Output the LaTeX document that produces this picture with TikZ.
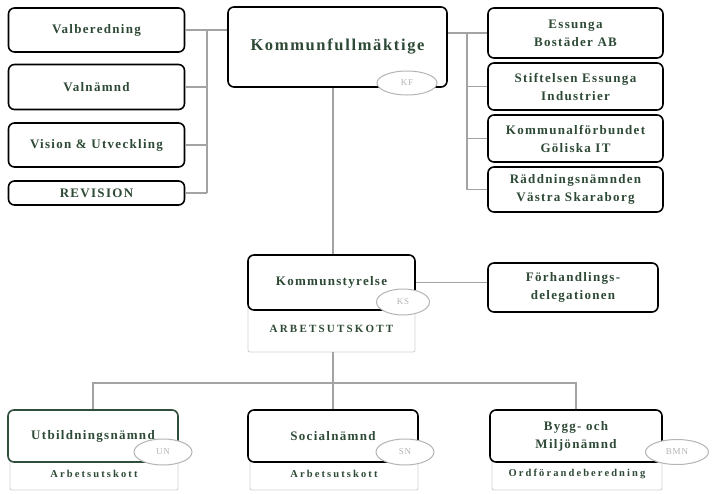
\documentclass[tikz,border=0pt]{standalone}
\usepackage{fontspec}
\setmainfont{Liberation Serif}
\newfontfamily\orgfont[LetterSpace=10]{Liberation Serif}
\newfontfamily\subfont[LetterSpace=20]{Liberation Serif}
\definecolor{orgtext}{HTML}{2E4A36}
\definecolor{orgline}{HTML}{A3A3A3}
\definecolor{subline}{HTML}{D2D2D2}
\definecolor{tagline}{HTML}{B4B4B4}
\definecolor{utbline}{HTML}{2F4F3A}
\tikzset{
  orgbox/.style={draw=black, line width=1.6pt, rounded corners=6pt, fill=white,
    align=center, inner sep=1pt, text=orgtext, font=\orgfont\bfseries\fontsize{13}{18}\selectfont},
  subbox/.style={draw=subline, line width=0.9pt, rounded corners=2pt, fill=white,
    align=center, inner sep=1pt, text=orgtext, font=\subfont\bfseries\fontsize{10.5}{12}\selectfont},
  tag/.style={draw=tagline, ellipse, line width=1pt, fill=white, inner sep=0pt,
    text=tagline, font=\orgfont\fontsize{9}{10}\selectfont},
  link/.style={draw=orgline, line width=1.2pt},
}
\usetikzlibrary{shapes.geometric}
\begin{document}
\begin{tikzpicture}[x=1pt,y=1pt,yscale=-1,xscale=1]
\useasboundingbox (0,0) rectangle (718,493);
%Left column
\node [orgbox, minimum width=176, minimum height=44] (valb) at (96.5,30) {Valberedning};
\node [orgbox, minimum width=176, minimum height=45] (valn) at (96.5,87) {Valnämnd};
\node [orgbox, minimum width=176, minimum height=44] (visi) at (96.5,145) {Vision \& Utveckling};
\node [orgbox, minimum width=176, minimum height=24] (revi) at (96.5,193) {REVISION};
%Top
\node [orgbox, minimum width=219, minimum height=80, font=\orgfont\bfseries\fontsize{16.5}{18}\selectfont] (kf) at (337.5,47) {Kommunfullmäktige};
\node [tag, minimum width=60, minimum height=24] (kftag) at (407,83) {KF};
%Right column
\node [orgbox, minimum width=175, minimum height=50] (essu) at (575.5,33) {Essunga\\Bostäder AB};
\node [orgbox, minimum width=175, minimum height=47] (stif) at (575.5,86.5) {Stiftelsen Essunga\\Industrier};
\node [orgbox, minimum width=175, minimum height=47] (komf) at (575.5,138.5) {Kommunalförbundet\\Göliska IT};
\node [orgbox, minimum width=175, minimum height=45] (radd) at (575.5,189.5) {Räddningsnämnden\\Västra Skaraborg};
%Middle
\node [subbox, minimum width=167, minimum height=46, font=\subfont\bfseries\fontsize{11}{12}\selectfont] (ksarb) at (331.5,329) {\raisebox{-6pt}{ARBETSUTSKOTT}};
\node [orgbox, minimum width=167, minimum height=55] (ks) at (331.5,282.5) {Kommunstyrelse};
\node [tag, minimum width=53, minimum height=26] (kstag) at (403,302) {KS};
\node [orgbox, minimum width=170, minimum height=49] (forh) at (573,287.5) {Förhandlings-\\delegationen};
%Bottom row
\node [subbox, minimum width=168, minimum height=32] (utbarb) at (94,474) {\raisebox{-6pt}{Arbetsutskott}};
\node [orgbox, draw=utbline, minimum width=170, minimum height=52] (utb) at (93,436) {Utbildningsnämnd};
\node [tag, minimum width=58, minimum height=26] (utbtag) at (163,452) {UN};
\node [subbox, minimum width=168, minimum height=32] (socarb) at (334,474) {\raisebox{-6pt}{Arbetsutskott}};
\node [orgbox, minimum width=170, minimum height=52] (soc) at (333,436) {Socialnämnd};
\node [tag, minimum width=58, minimum height=26] (soctag) at (405,452) {SN};
\node [subbox, minimum width=170, minimum height=32] (bygarb) at (577,474) {\raisebox{-6pt}{Ordförandeberedning}};
\node [orgbox, minimum width=172, minimum height=52] (byg) at (576,436) {Bygg- och\\Miljönämnd};
\node [tag, minimum width=63, minimum height=25] (bygtag) at (677,452) {BMN};
%Connectors
\coordinate (lspine) at (207,0);
\coordinate (rspine) at (467,0);
\coordinate (bus) at (333,383);
\path [link] (valb.east) -- (kf.west |- valb.east);
\path [link] (valb.east -| lspine) -- (revi.east -| lspine);
\path [link] (valn.east) -- (valn.east -| lspine);
\path [link] (visi.east) -- (visi.east -| lspine);
\path [link] (revi.east) -- (revi.east -| lspine);
\path [link] (kf.east |- essu.west) -- (essu.west);
\path [link] (essu.west -| rspine) -- (radd.west -| rspine);
\path [link] (stif.west) -- (stif.west -| rspine);
\path [link] (komf.west) -- (komf.west -| rspine);
\path [link] (radd.west) -- (radd.west -| rspine);
\path [link] (kf.south -| bus) -- (ks.north -| bus);
\path [link] (ks.east) -- (forh.west |- ks.east);
\path [link] (ksarb.south -| bus) -- (bus);
\path [link] (utb.north) -- (utb.north |- bus) -- (byg.north |- bus) -- (byg.north);
\path [link] (soc.north -| bus) -- (bus);
\end{tikzpicture}
\end{document}
